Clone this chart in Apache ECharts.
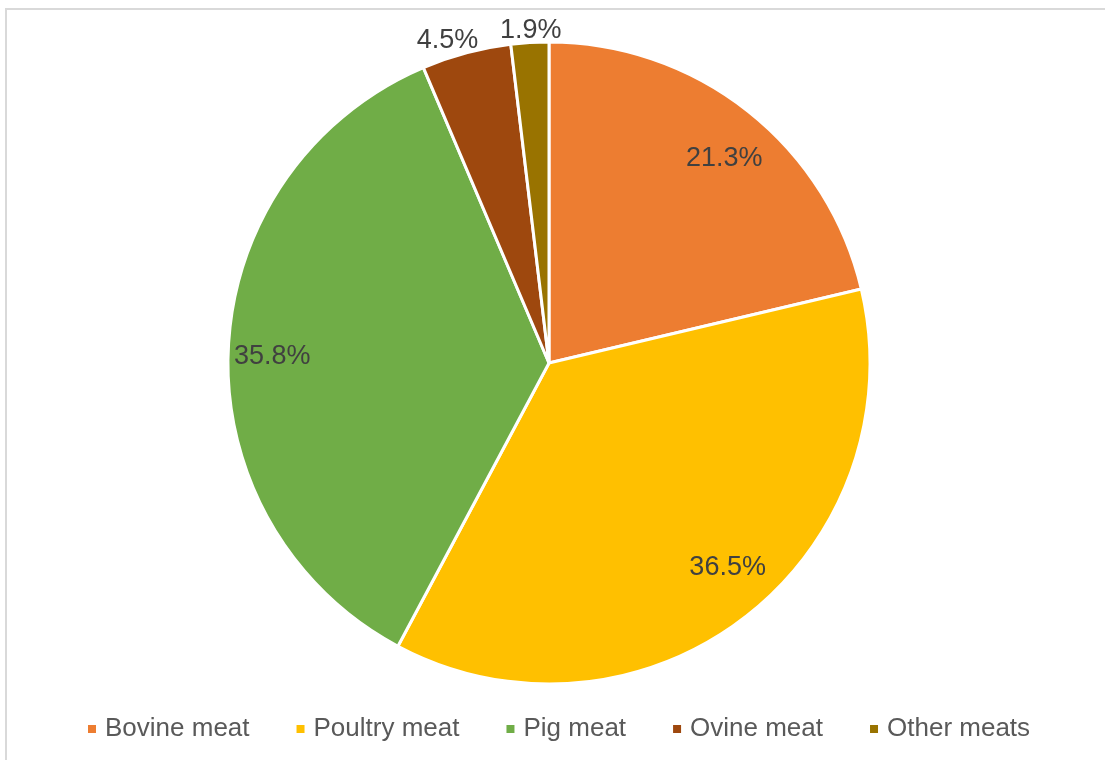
<!DOCTYPE html>
<html>
<head>
<meta charset="utf-8">
<script src="https://cdn.jsdelivr.net/npm/echarts@6/dist/echarts.min.js"></script>
<style>
  html, body { margin: 0; padding: 0; background: #ffffff; }
  #chart { width: 1105px; height: 760px; }
</style>
</head>
<body>
<div id="chart"></div>
<script>
// Share of meat production by type (%)
const categories = ['Bovine meat', 'Poultry meat', 'Pig meat', 'Ovine meat', 'Other meats'];
const shares = [21.3, 36.5, 35.8, 4.5, 1.9];
const colors = ['#ED7D31', '#FFC000', '#70AD47', '#9E480E', '#997300'];

const FONT = '"Liberation Sans", Arial, sans-serif';
const CENTER = [549, 363];
const R = 321;
const SMALL = 10; // slices below this share get their label outside the rim

// Nudges for the percentage labels (best-fit placement), per slice
const labelNudge = [[6, 10], [12, -12], [-4, 6], [-14, 5], [2, 6]];

const pieData = categories.map((name, i) => ({
  name, value: shares[i], itemStyle: { color: colors[i] }
}));

// Transparent label rings: one inside the rim for large slices, one just outside for small ones
const labelRing = (inner, outer, pick) => ({
  type: 'pie',
  center: CENTER,
  radius: [inner, outer],
  startAngle: 90,
  clockwise: true,
  silent: true,
  z: 5,
  itemStyle: { color: 'rgba(0,0,0,0)', borderWidth: 0 },
  emphasis: { disabled: true },
  labelLine: { show: false },
  label: {
    position: 'inside',
    formatter: p => p.value.toFixed(1) + '%',
    fontFamily: FONT,
    fontSize: 27,
    color: '#404040'
  },
  data: categories.map((name, i) => ({
    name, value: shares[i],
    label: { show: pick(shares[i]), offset: labelNudge[i] }
  }))
});

const chart = echarts.init(document.getElementById('chart'), null, { renderer: 'canvas' });
chart.setOption({
  animation: false,
  backgroundColor: '#ffffff',
  graphic: [{
    type: 'rect',
    shape: { x: 6, y: 9, width: 1300, height: 900 },
    style: { fill: 'none', stroke: '#d9d9d9', lineWidth: 2 },
    silent: true
  }],
  legend: {
    data: categories,
    left: 86,
    top: 716,
    padding: 0,
    icon: 'rect',
    itemWidth: 10,
    itemHeight: 10,
    itemGap: 45,
    textStyle: { fontFamily: FONT, fontSize: 26, color: '#595959', padding: [0, 0, 0, 3] },
    selectedMode: false
  },
  series: [
    {
      type: 'pie',
      center: CENTER,
      radius: [0, R],
      startAngle: 90,
      clockwise: true,
      silent: true,
      label: { show: false },
      labelLine: { show: false },
      itemStyle: { borderColor: '#ffffff', borderWidth: 3 },
      data: pieData
    },
    labelRing(219, R, v => v >= SMALL),
    labelRing(R, 351, v => v < SMALL)
  ]
});
</script>
</body>
</html>
